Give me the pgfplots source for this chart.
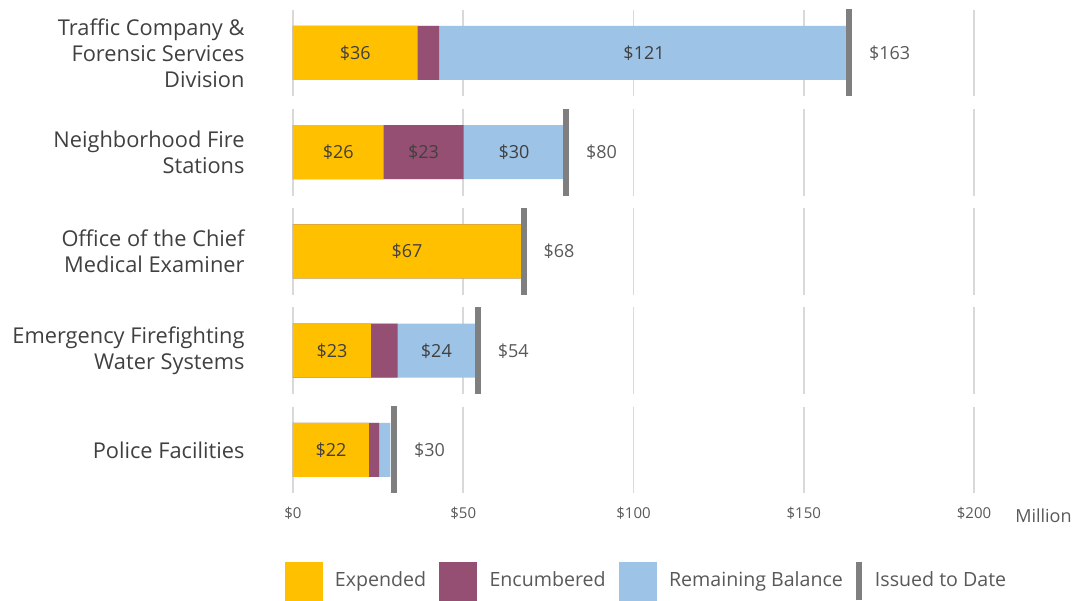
\documentclass[border=0pt]{standalone}
\usepackage{pgfplots}
\pgfplotsset{compat=1.18}
\usepackage{pgfplotstable}
\usepackage{fontspec}
\setmainfont{Open Sans}
\definecolor{cExp}{HTML}{FFC000}
\definecolor{cEnc}{HTML}{954F72}
\definecolor{cRem}{HTML}{9DC3E6}
\definecolor{cIss}{HTML}{7F7F7F}
\definecolor{cGrid}{HTML}{D9D9D9}
\definecolor{cTxt}{HTML}{404040}
\definecolor{cTick}{HTML}{595959}

% y = row, exp = expended, enc = encumbered, rem = remaining, iss = issued to date
\pgfplotstableread{
y exp enc rem iss lab
0 36.6 6.3 120.4 163.4 163
1 26.6 23.5 29.6 80.3 80
2 67.0 0.0 0.0 67.8 68
3 22.9 7.8 22.8 54.4 54
4 22.3 3.0 3.3 29.8 30
}\data

% cumulative ends of the stacked segments
\pgfplotstableread{
y e1 e2 e3
0 36.6 42.9 163.3
1 26.6 50.1 79.7
2 67.0 67.0 67.0
3 22.9 30.7 53.5
4 22.3 25.3 28.6
}\ends

% segment labels at segment centres
\pgfplotstableread{
x y lab
18.3 0 36
103.1 0 121
13.3 1 26
38.35 1 23
64.9 1 30
33.5 2 67
11.45 3 23
42.1 3 24
11.15 4 22
}\seglabels

% segmented vertical grid lines (one segment per row)
\pgfplotstableread{
x y
0 -0.438
0 0.438
nan nan
0 0.562
0 1.438
nan nan
0 1.562
0 2.438
nan nan
0 2.562
0 3.438
nan nan
0 3.562
0 4.438
nan nan
50 -0.438
50 0.438
nan nan
50 0.562
50 1.438
nan nan
50 1.562
50 2.438
nan nan
50 2.562
50 3.438
nan nan
50 3.562
50 4.438
nan nan
100 -0.438
100 0.438
nan nan
100 0.562
100 1.438
nan nan
100 1.562
100 2.438
nan nan
100 2.562
100 3.438
nan nan
100 3.562
100 4.438
nan nan
150 -0.438
150 0.438
nan nan
150 0.562
150 1.438
nan nan
150 1.562
150 2.438
nan nan
150 2.562
150 3.438
nan nan
150 3.562
150 4.438
nan nan
200 -0.438
200 0.438
nan nan
200 0.562
200 1.438
nan nan
200 1.562
200 2.438
nan nan
200 2.562
200 3.438
nan nan
200 3.562
200 4.438
}\gridsegs

\begin{document}
\begin{tikzpicture}
\begin{axis}[
  x=1.7025pt, y=49.625pt, y dir=reverse,
  xmin=0, xmax=200, ymin=-0.44, ymax=4.44,
  axis line style={draw=none}, major tick length=0pt,
  clip=false,
  xtick={0,50,100,150,200},
  xticklabels={\$0,\$50,\$100,\$150,\$200},
  xticklabel style={font=\fontsize{7.5}{9}\selectfont, text=cTick, yshift=-3pt},
  ytick={0,1,2,3,4},
  yticklabels={{Traffic Company \&\\Forensic Services\\Division},
               {Neighborhood Fire\\Stations},
               {Office of the Chief\\Medical Examiner},
               {Emergency Firefighting\\Water Systems},
               {Police Facilities}},
  yticklabel style={align=right, font=\fontsize{10.9}{13}\selectfont, text=cTxt, xshift=-20.7pt},
  legend columns=4,
  legend style={at={(axis cs:-2.6,5.32)}, anchor=west, draw=none, inner sep=0pt,
    font=\fontsize{9.8}{11}\selectfont, text=cTick,
    /tikz/every even column/.append style={column sep=4.5pt}},
]
\addlegendimage{legend image code/.code={\fill[cExp] (0pt,-9.5pt) rectangle (18.5pt,9.5pt); \path[draw=none] (0pt,0pt) -- (23pt,0pt);}}
\addlegendentry{Expended}
\addlegendimage{legend image code/.code={\fill[cEnc] (0pt,-9.5pt) rectangle (18.5pt,9.5pt); \path[draw=none] (0pt,0pt) -- (23pt,0pt);}}
\addlegendentry{Encumbered}
\addlegendimage{legend image code/.code={\fill[cRem] (0pt,-9.5pt) rectangle (18.5pt,9.5pt); \path[draw=none] (0pt,0pt) -- (23pt,0pt);}}
\addlegendentry{Remaining Balance}
\addlegendimage{legend image code/.code={\draw[cIss, line width=3pt] (1.5pt,-9.5pt) -- (1.5pt,9.5pt); \path[draw=none] (0pt,0pt) -- (7.5pt,0pt);}}
\addlegendentry{Issued to Date}

% segmented grid lines
\addplot[forget plot, cGrid, line width=0.8pt, mark=none, unbounded coords=jump] table[x=x, y=y] {\gridsegs};

% stacked bars drawn back to front
\addplot[forget plot, xbar, bar width=27pt, bar shift=0pt, fill=cRem, draw=none] table[x=e3, y=y] {\ends};
\addplot[forget plot, xbar, bar width=27pt, bar shift=0pt, fill=cEnc, draw=none] table[x=e2, y=y] {\ends};
\addplot[forget plot, xbar, bar width=27pt, bar shift=0pt, fill=cExp, draw=none] table[x=e1, y=y] {\ends};

% segment labels
\addplot[forget plot, draw=none, mark=none, point meta=explicit symbolic,
  nodes near coords={\$\pgfplotspointmeta},
  nodes near coords style={anchor=center, font=\fontsize{9}{11}\selectfont, text=cTxt}]
  table[x=x, y=y, meta=lab] {\seglabels};

% issued to date markers
\addplot[forget plot, only marks, mark=|, mark size=21.75pt, mark options={cIss, line width=3pt},
  point meta=explicit symbolic,
  nodes near coords={\$\pgfplotspointmeta},
  nodes near coords style={anchor=west, xshift=5pt, font=\fontsize{9}{11}\selectfont, text=cTick}]
  table[x=iss, y=y, meta=lab] {\data};

\node[anchor=west, inner sep=0pt, font=\fontsize{9}{10}\selectfont, text=cTick] at (axis cs:212,4.665) {Million};

\coordinate (bbA) at (axis cs:-86.05,-0.534);
\coordinate (bbB) at (axis cs:228.78,5.521);
\end{axis}
\pgfresetboundingbox
\path[use as bounding box] (bbA) rectangle (bbB);
\end{tikzpicture}
\end{document}
